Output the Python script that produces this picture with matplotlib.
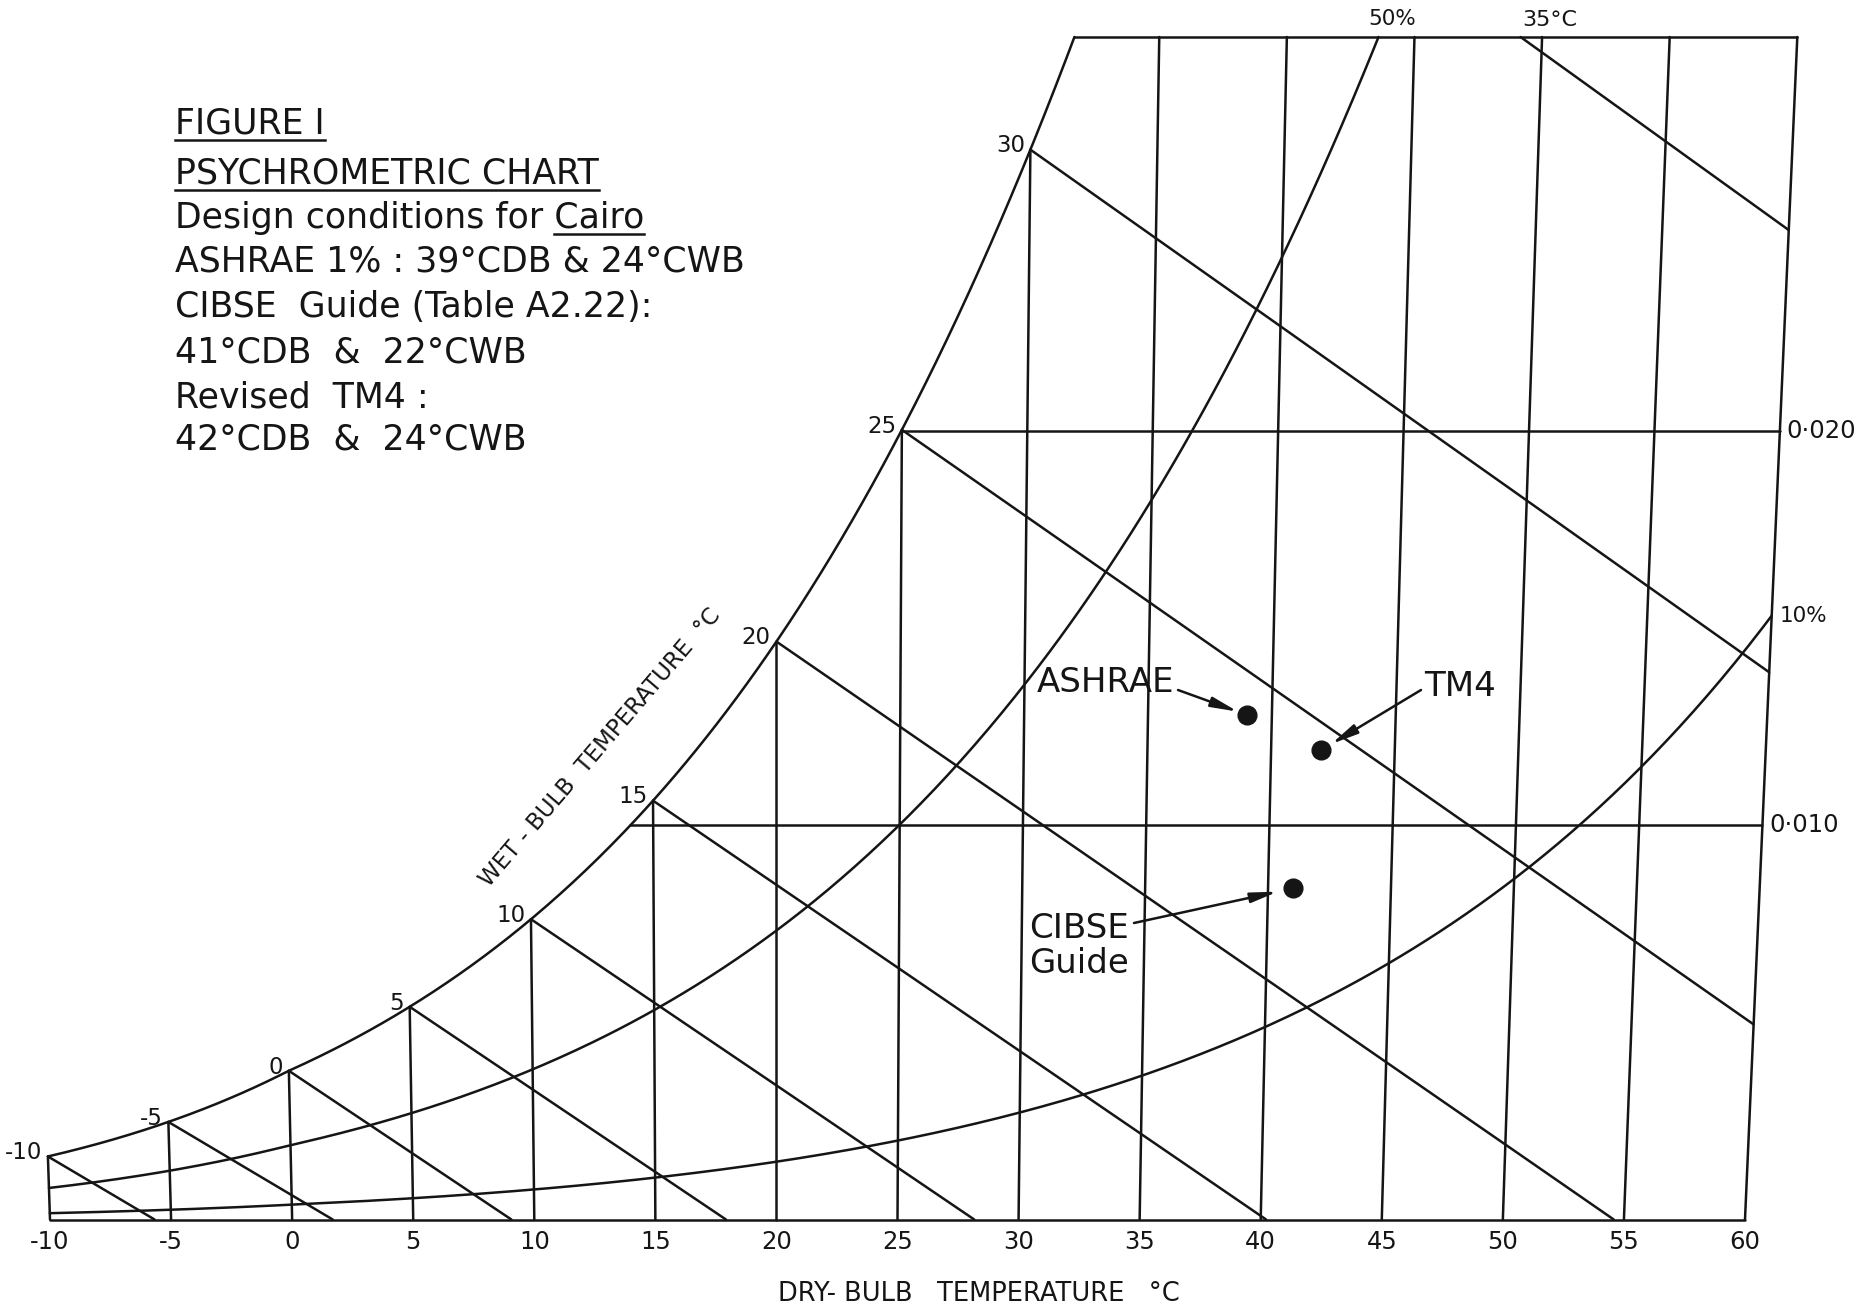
import numpy as np
import matplotlib.pyplot as plt
from matplotlib.lines import Line2D

plt.rcParams['font.family'] = ['DejaVu Sans']

# chart frame
db_min = -10          # deg C
db_max = 60           # deg C
g_top = 0.030         # kg/kg
pressure = 101.325    # kPa
skew = 1.8            # fan-out of the dry-bulb lines
db_vertical = 20      # this dry-bulb line stands upright

# chart lines and their labels
db_lines = [-10, -5, 0, 5, 10, 15, 20, 25, 30, 35, 40, 45, 50, 55, 60]
db_labels = ['-10', '-5', '0', '5', '10', '15', '20', '25', '30', '35', '40', '45', '50', '55', '60']
wb_lines = [-10, -5, 0, 5, 10, 15, 20, 25, 30, 35]
wb_labels = ['-10', '-5', '0', '5', '10', '15', '20', '25', '30', '35°C']
sat_percent = [50, 10]
sat_labels = ['50%', '10%']
moisture_lines = [0.010, 0.020]
moisture_labels = ['0·010', '0·020']

# design points for Cairo
point_names = ['ASHRAE', 'CIBSE\nGuide', 'TM4']
point_db = [39, 41, 42]
point_g = [0.0128, 0.0084, 0.0119]

title_lines = ['FIGURE I',
               'PSYCHROMETRIC CHART',
               'Design conditions for Cairo',
               'ASHRAE 1% : 39°CDB & 24°CWB',
               'CIBSE  Guide (Table A2.22):',
               '41°CDB  &  22°CWB',
               'Revised  TM4 :',
               '42°CDB  &  24°CWB']

W, H = 1872, 1310
ink = '#151515'
lw = 1.8


def px(x, y):
    # pixel position (origin top left) -> figure fraction
    return x / W, 1 - y / H


def p_sat(t):
    t = np.asarray(t, dtype=float)
    water = 0.61094 * np.exp(17.625 * t / (t + 243.04))
    ice = 0.61115 * np.exp(22.452 * t / (272.55 + t))
    return np.where(t >= 0, water, ice)


def g_sat(t):
    ps = p_sat(t)
    return 0.622 * ps / (pressure - ps)


def g_from_pw(pw):
    return 0.622 * pw / (pressure - pw)


def pw_from_g(g):
    return g * pressure / (0.622 + g)


def psy_coef(twb):
    # sling psychrometer constant, water / ice
    return 6.66e-4 if twb >= 0 else 5.94e-4


def chart_x(t, g):
    return t + skew * g * (t - db_vertical)


def dew_point(g):
    ts = np.linspace(-20, 70, 9001)
    return float(np.interp(g, g_sat(ts), ts))


fig = plt.figure(figsize=(W / 100, H / 100), dpi=100)
ax = fig.add_axes([0, 0, 1, 1])
left_px, right_px = 50, 1745
base_px, top_px = 1219.5, 37
ppd = (right_px - left_px) / (db_max - db_min)
ppg = (base_px - top_px) / g_top
ax.set_xlim(db_min - left_px / ppd, db_min + (W - left_px) / ppd)
ax.set_ylim(-(H - base_px) / ppg, base_px / ppg)
ax.axis('off')

line_kw = dict(color=ink, lw=lw, solid_capstyle='round', solid_joinstyle='round')

# saturation curve
t_top = dew_point(g_top)
ts = np.linspace(db_min, t_top, 400)
ax.plot(chart_x(ts, g_sat(ts)), g_sat(ts), **line_kw)

# top and bottom edges
ax.plot([chart_x(t_top, g_top), chart_x(db_max, g_top)], [g_top, g_top], **line_kw)
ax.plot([chart_x(db_min, 0), chart_x(db_max, 0)], [0, 0], **line_kw)

# dry-bulb lines
for t in db_lines:
    g_end = min(float(g_sat(t)), g_top)
    ax.plot([chart_x(t, 0), chart_x(t, g_end)], [0, g_end], **line_kw)

# moisture content lines
for g in moisture_lines:
    t0 = dew_point(g)
    ax.plot([chart_x(t0, g), chart_x(db_max, g)], [g, g], **line_kw)

# percentage saturation curves
for mu in sat_percent:
    t_end = min(db_max, dew_point(g_top * 100 / mu))
    ts = np.linspace(db_min, t_end, 400)
    gs = g_sat(ts) * mu / 100
    ax.plot(chart_x(ts, gs), gs, **line_kw)

# wet-bulb lines
for twb in wb_lines:
    a = psy_coef(twb) * pressure
    ps = float(p_sat(twb))
    t_start = max(twb, twb + (ps - pw_from_g(g_top)) / a)
    t_end = min(db_max, twb + ps / a)
    ts = np.linspace(t_start, t_end, 200)
    gs = np.clip(g_from_pw(ps - a * (ts - twb)), 0, None)
    ax.plot(chart_x(ts, gs), gs, **line_kw)

# wet-bulb labels along the saturation curve
for twb, lab in zip(wb_lines, wb_labels):
    if twb < 35:
        g = float(g_sat(twb))
        ax.annotate(lab, (chart_x(twb, g), g), xytext=(-4, -2), textcoords='offset points',
                    ha='right', va='baseline', fontsize=16.5, color=ink)
    else:
        a = psy_coef(twb) * pressure
        t_start = twb + (float(p_sat(twb)) - pw_from_g(g_top)) / a
        ax.annotate(lab, (chart_x(t_start, g_top), g_top), xytext=(21, 12),
                    textcoords='offset points', ha='center', va='center',
                    fontsize=16, color=ink)

# dry-bulb scale
for t, lab in zip(db_lines, db_labels):
    ax.annotate(lab, (chart_x(t, 0), 0), xytext=(0, -16), textcoords='offset points',
                ha='center', va='center', fontsize=17.5, color=ink)

# moisture content scale
for g, lab in zip(moisture_lines, moisture_labels):
    ax.annotate(lab, (chart_x(db_max, g), g), xytext=(5, 0), textcoords='offset points',
                ha='left', va='center', fontsize=17.5, color=ink)

# percentage saturation labels
g50 = g_top
t50 = dew_point(g_top * 100 / sat_percent[0])
ax.annotate(sat_labels[0], (chart_x(t50, g50), g50), xytext=(10, 13),
            textcoords='offset points', ha='center', va='center', fontsize=15.5, color=ink)
g10 = float(g_sat(db_max)) * sat_percent[1] / 100
ax.annotate(sat_labels[1], (chart_x(db_max, g10), g10), xytext=(6, 0),
            textcoords='offset points', ha='left', va='center', fontsize=15.5, color=ink)

# design points with pointers
px_pts = [chart_x(t, g) for t, g in zip(point_db, point_g)]
ax.plot(px_pts, point_g, 'o', color=ink, ms=13.5, mec=ink)

text_pos = [(1174, 683), (1029, 946), (1424, 686)]
text_ha = ['right', 'left', 'left']
arrow_from = [(1178, 690), (1134, 923), (1421, 690)]
arrow_shrink = [7, 11, 9]
for name, xy, ha in zip(point_names, text_pos, text_ha):
    fig.text(*px(*xy), name, ha=ha, va='center', fontsize=24.5, color=ink, linespacing=1.08)
for x, g, start, sh in zip(px_pts, point_g, arrow_from, arrow_shrink):
    ax.annotate('', xy=(x, g), xytext=px(*start), textcoords='figure fraction',
                arrowprops=dict(arrowstyle='-|>,head_length=0.8,head_width=0.15',
                                mutation_scale=20, color=ink, lw=lw,
                                shrinkA=0, shrinkB=sh))

# axis titles
fig.text(*px(600, 748), 'WET - BULB  TEMPERATURE  °C', rotation=49.5, rotation_mode='anchor',
         ha='center', va='center', fontsize=16.5, color=ink)
fig.text(*px(979, 1294), 'DRY- BULB   TEMPERATURE   °C', ha='center', va='center',
         fontsize=18.5, color=ink)

# heading block
baselines = [134, 184, 228, 271, 317, 362, 407, 450]
heads = []
for line, yb in zip(title_lines, baselines):
    heads.append(fig.text(*px(175, yb), line, ha='left', va='baseline', fontsize=25, color=ink))

fig.canvas.draw()
renderer = fig.canvas.get_renderer()


def underline(txt, x_from=None):
    bb = txt.get_window_extent(renderer)
    x0 = bb.x0 if x_from is None else x_from
    yb = txt.get_position()[1] * H - 6
    fig.add_artist(Line2D([x0 / W, bb.x1 / W], [yb / H, yb / H], color=ink, lw=lw))


underline(heads[0])
underline(heads[1])
word = fig.text(0, 0, 'Cairo', fontsize=25)
w_word = word.get_window_extent(renderer).width
word.remove()
underline(heads[2], heads[2].get_window_extent(renderer).x1 - w_word)

fig.savefig('out.png', dpi=100, facecolor='white')
